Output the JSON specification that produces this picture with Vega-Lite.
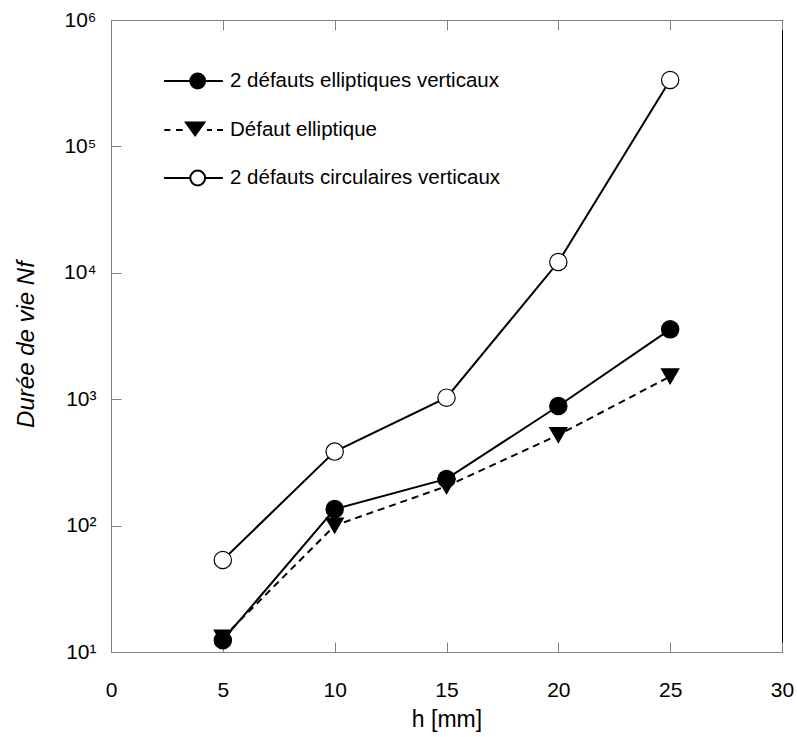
{
  "$schema": "https://vega.github.io/schema/vega-lite/v6.json",
  "width": 671,
  "height": 632,
  "autosize": {"type": "none"},
  "padding": {"left": 111, "top": 20, "right": 15, "bottom": 85},
  "background": "white",
  "config": {
    "font": "Liberation Sans",
    "view": {"stroke": "#000000", "strokeWidth": 1},
    "axis": {
      "grid": false,
      "domainColor": "#808080",
      "domainWidth": 1,
      "tickColor": "#808080",
      "tickWidth": 1,
      "tickSize": -10,
      "labelFont": "Liberation Sans",
      "labelFontSize": 21,
      "labelColor": "#000000",
      "titleFont": "Liberation Sans",
      "titleFontWeight": "normal",
      "titleColor": "#000000"
    },
    "legend": {
      "title": null,
      "orient": "none",
      "legendX": 61.5,
      "legendY": 40,
      "padding": 0,
      "symbolSize": 1600,
      "symbolStrokeWidth": 2,
      "symbolOpacity": 1,
      "labelFont": "Liberation Sans",
      "labelFontSize": 20.5,
      "labelColor": "#000000",
      "labelOffset": 15.5,
      "rowPadding": 16,
      "labelLimit": 400
    }
  },
  "data": {
    "values": [
      {"h": 5, "N": 13, "series": "Défaut elliptique"},
      {"h": 10, "N": 100, "series": "Défaut elliptique"},
      {"h": 15, "N": 205, "series": "Défaut elliptique"},
      {"h": 20, "N": 521, "series": "Défaut elliptique"},
      {"h": 25, "N": 1515, "series": "Défaut elliptique"},
      {"h": 5, "N": 12.4, "series": "2 défauts elliptiques verticaux"},
      {"h": 10, "N": 135, "series": "2 défauts elliptiques verticaux"},
      {"h": 15, "N": 234, "series": "2 défauts elliptiques verticaux"},
      {"h": 20, "N": 883, "series": "2 défauts elliptiques verticaux"},
      {"h": 25, "N": 3570, "series": "2 défauts elliptiques verticaux"},
      {"h": 5, "N": 53.5, "series": "2 défauts circulaires verticaux"},
      {"h": 10, "N": 385, "series": "2 défauts circulaires verticaux"},
      {"h": 15, "N": 1028, "series": "2 défauts circulaires verticaux"},
      {"h": 20, "N": 12170, "series": "2 défauts circulaires verticaux"},
      {"h": 25, "N": 335000, "series": "2 défauts circulaires verticaux"}
    ]
  },
  "resolve": {
    "axis": {"x": "independent"},
    "scale": {"shape": "independent", "fill": "independent", "stroke": "independent"}
  },
  "layer": [
    {
      "transform": [{"filter": "datum.series === 'Défaut elliptique'"}],
      "mark": {"type": "line", "color": "#000000", "strokeWidth": 2, "strokeDash": [7, 5]},
      "encoding": {
        "x": {
          "field": "h", "type": "quantitative",
          "scale": {"domain": [0, 30], "nice": false, "zero": false},
          "axis": {
            "orient": "bottom",
            "values": [0, 5, 10, 15, 20, 25, 30],
            "labelPadding": 37,
            "labelFlush": false,
            "title": "h [mm]",
            "titleFontSize": 23,
            "titleBaseline": "middle",
            "titleY": 67
          }
        },
        "y": {
          "field": "N", "type": "quantitative",
          "scale": {"type": "log", "domain": [10, 1000000], "nice": false},
          "axis": {
            "values": [10, 100, 1000, 10000, 100000, 1000000],
            "labelExpr": "'10' + ['⁰','¹','²','³','⁴','⁵','⁶'][round(log(datum.value)/LN10)]",
            "labelPadding": 25,
            "labelFlush": false,
            "title": "Durée de vie Nf",
            "titleFontSize": 24,
            "titleFontStyle": "italic",
            "titleX": -73,
            "titleY": 324,
            "titleAngle": -90,
            "titleBaseline": "bottom",
            "titleAlign": "center"
          }
        }
      }
    },
    {
      "transform": [{"filter": "datum.series !== 'Défaut elliptique'"}],
      "mark": {"type": "line", "color": "#000000", "strokeWidth": 2},
      "encoding": {
        "x": {"field": "h", "type": "quantitative", "axis": null},
        "y": {"field": "N", "type": "quantitative"},
        "detail": {"field": "series"}
      }
    },
    {
      "mark": {"type": "point", "filled": true, "stroke": "#000000", "strokeWidth": 1.2, "opacity": 1, "size": 300},
      "encoding": {
        "x": {
          "field": "h", "type": "quantitative",
          "axis": {
            "orient": "top",
            "values": [0, 5, 10, 15, 20, 25, 30],
            "labels": false,
            "title": null
          }
        },
        "y": {"field": "N", "type": "quantitative"},
        "shape": {
          "field": "series", "type": "nominal",
          "scale": {
            "domain": ["2 défauts elliptiques verticaux", "Défaut elliptique", "2 défauts circulaires verticaux"],
            "range": ["circle", "triangle-down", "circle"]
          },
          "legend": null
        },
        "fill": {
          "field": "series", "type": "nominal",
          "scale": {
            "domain": ["2 défauts elliptiques verticaux", "Défaut elliptique", "2 défauts circulaires verticaux"],
            "range": ["#000000", "#000000", "#ffffff"]
          },
          "legend": null
        }
      }
    },
    {
      "transform": [{"filter": "datum.h < 0"}],
      "mark": {"type": "point", "filled": true, "strokeWidth": 2, "opacity": 1},
      "encoding": {
        "x": {"field": "h", "type": "quantitative", "axis": null},
        "y": {"field": "N", "type": "quantitative"},
        "shape": {
          "field": "series", "type": "nominal",
          "scale": {
            "domain": ["2 défauts elliptiques verticaux", "Défaut elliptique", "2 défauts circulaires verticaux"],
            "range": [
              "M-1.47,0H-0.16M0.58,0H1.47M-0.16,0A0.37,0.37 0 1,0 0.58,0A0.37,0.37 0 1,0 -0.16,0Z",
              "M-1.46,0H-1.16M-0.875,0H-0.54M0.675,0H0.925M1.175,0H1.475M-0.38,-0.37L0.54,-0.37L0.08,0.27Z",
              "M-1.47,0H-0.16M0.58,0H1.47M-0.16,0A0.37,0.37 0 1,0 0.58,0A0.37,0.37 0 1,0 -0.16,0Z"
            ]
          }
        },
        "fill": {
          "field": "series", "type": "nominal",
          "scale": {
            "domain": ["2 défauts elliptiques verticaux", "Défaut elliptique", "2 défauts circulaires verticaux"],
            "range": ["#000000", "#000000", "#ffffff"]
          }
        },
        "stroke": {
          "field": "series", "type": "nominal",
          "scale": {
            "domain": ["2 défauts elliptiques verticaux", "Défaut elliptique", "2 défauts circulaires verticaux"],
            "range": ["#000000", "#000000", "#000000"]
          }
        }
      }
    }
  ]
}
